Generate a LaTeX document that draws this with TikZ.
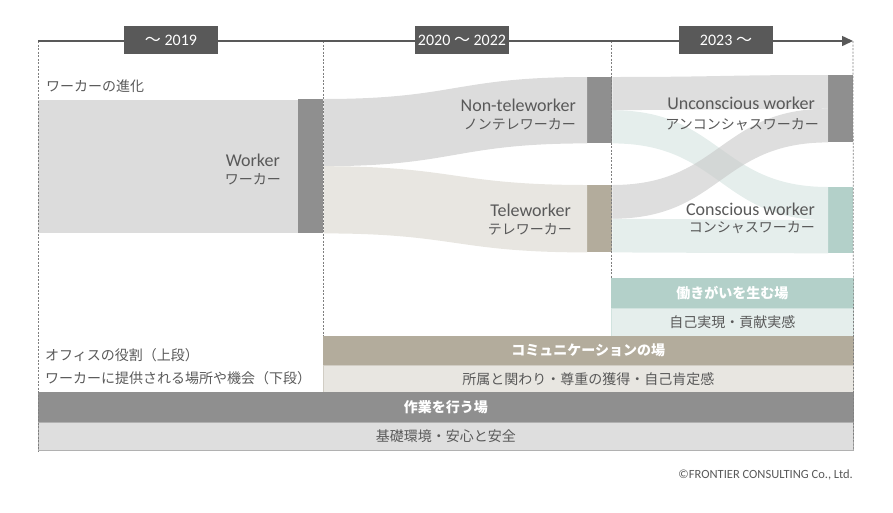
\documentclass[tikz,border=0pt]{standalone}
\usepackage{fontspec}
\setmainfont{Carlito}
\newfontfamily\jp{Noto Sans CJK JP}
\usetikzlibrary{arrows.meta,calc}
\definecolor{inkgray}{HTML}{595959}
\definecolor{bargray}{HTML}{8F8F8F}
\definecolor{flowgray}{HTML}{DCDCDC}
\definecolor{crossgray}{HTML}{C8C8C8}
\definecolor{bartan}{HTML}{B3AC9C}
\definecolor{flowtan}{HTML}{E8E6E1}
\definecolor{barteal}{HTML}{B3D0C9}
\definecolor{flowteal}{HTML}{E5EEEC}
\definecolor{basegray}{HTML}{DEDEDE}
\definecolor{dashgray}{HTML}{7F7F7F}
\begin{document}
\begin{tikzpicture}[x=1pt,y=-1pt,
    yearbox/.style ={fill=inkgray, text=white, minimum width=94pt, minimum height=28pt, inner sep=0pt, font=\fontsize{16}{18}\selectfont},
    stagebar/.style ={anchor=north west, minimum width=25pt, inner sep=0pt},
    enlabel/.style ={anchor=base east, inner sep=0pt, text=inkgray, font=\fontsize{18}{20}\selectfont},
    jplabel/.style ={anchor=base east, inner sep=0pt, text=inkgray, font=\jp\fontsize{14}{16}\selectfont},
    note/.style ={anchor=base west, inner sep=0pt, text=inkgray, font=\jp\fontsize{14}{16}\selectfont},
    tier/.style ={anchor=north west, inner sep=0pt, line width=0.6pt, font=\jp\fontsize{14}{16}\selectfont},
    period/.style ={draw=dashgray, line width=0.7pt, dash pattern=on 2pt off 1.5pt}]
   \useasboundingbox (0,0) rectangle (893,512);

   \coordinate (t0) at (38,41);
   \coordinate (t1) at (853,41);

   \node[stagebar, fill=bargray, minimum height=134pt] (wk) at (298,99)  {};
   \node[stagebar, fill=bargray, minimum height=66pt]  (nt) at (587,77)  {};
   \node[stagebar, fill=bartan, minimum height=67pt]   (tw) at (587,185) {};
   \node[stagebar, fill=bargray, minimum height=67pt]  (uc) at (828,75)  {};
   \node[stagebar, fill=barteal, minimum height=66pt]  (cs) at (828,187) {};

   \coordinate (wkm) at ($(wk.north east)!0.5!(wk.south east)$);
   \coordinate (ntm) at ($(nt.north east)!0.5!(nt.south east)$);
   \coordinate (twm) at ($(tw.north east)!0.5!(tw.south east)$);
   \coordinate (ucm) at ($(uc.north west)!0.5!(uc.south west)$);
   \coordinate (csm) at ($(cs.north west)!0.5!(cs.south west)$);

   \fill[flowgray] (38,100) rectangle (wk.south west);
   \fill[flowgray] (wk.north east) .. controls +(132,0) and +(-132,0) .. (nt.north west) -- (nt.south west) .. controls +(-132,0) and +(132,0) .. (wkm) -- cycle;
   \fill[flowtan] (wkm) .. controls +(132,0) and +(-132,0) .. (tw.north west) -- (tw.south west) .. controls +(-132,0) and +(132,0) .. (wk.south east) -- cycle;
   \fill[flowteal] (ntm) .. controls +(108,0) and +(-108,0) .. (cs.north west) -- (csm) .. controls +(-108,0) and +(108,0) .. (nt.south east) -- cycle;
   \fill[flowteal] (twm) .. controls +(108,0) and +(-108,0) .. (csm) -- (cs.south west) .. controls +(-108,0) and +(108,0) .. (tw.south east) -- cycle;
   \fill[crossgray, opacity=0.6] (nt.north east) .. controls +(108,0) and +(-108,0) .. (uc.north west) -- (ucm) .. controls +(-108,0) and +(108,0) .. (ntm) -- cycle;
   \fill[crossgray, opacity=0.6] (tw.north east) .. controls +(108,0) and +(-108,0) .. (ucm) -- (uc.south west) .. controls +(-108,0) and +(108,0) .. (twm) -- cycle;

   \node[tier, fill=barteal, draw=barteal, text=white, minimum width=242pt, minimum height=30pt] (ikigai) at (611,278) {\bfseries 働きがいを生む場};
   \node[tier, fill=flowteal, draw=barteal!60, text=inkgray, minimum width=242pt, minimum height=28pt] (jiko) at (611,308) {自己実現・貢献実感};
   \node[tier, fill=bartan, draw=bartan, text=white, minimum width=530pt, minimum height=29pt] (comm) at (323,336) {\bfseries コミュニケーションの場};
   \node[tier, fill=flowtan, draw=bartan!60, text=inkgray, minimum width=530pt, minimum height=27pt] (shozoku) at (323,365) {所属と関わり・尊重の獲得・自己肯定感};
   \node[tier, fill=bargray, draw=bargray, text=white, minimum width=815pt, minimum height=30pt] (sagyo) at (38,392) {\bfseries 作業を行う場};
   \node[tier, fill=basegray, draw=bargray!70, text=inkgray, minimum width=815pt, minimum height=28pt] (kiso) at (38,422) {基礎環境・安心と安全};

   \draw[period] (t0) -- (kiso.south west);
   \draw[period] (323,41) -- (comm.north west);
   \draw[period] (611,41) -- (ikigai.north west);
   \draw[period] (t1) -- (kiso.south east);

   \draw[inkgray, line width=1.5pt, -{Triangle[length=11pt,width=10pt]}] (t0) -- (t1);

   \node[yearbox] (y2019) at (171,40) {{\jp 〜} 2019};
   \node[yearbox] (y2020) at (462,40) {2020 {\jp 〜} 2022};
   \node[yearbox] (y2023) at (726,40) {2023 {\jp 〜}};

   \node[note] (evo) at (46,91) {ワーカーの進化};
   \node[note] (role) at (45,360) {オフィスの役割（上段）};
   \node[note] (offer) at (45,383) {ワーカーに提供される場所や機会（下段）};

   \node[enlabel] (wken) at (280,166) {Worker};
   \node[jplabel] (wkjp) at (281,184) {ワーカー};
   \node[enlabel] (nten) at (576,111) {Non-teleworker};
   \node[jplabel] (ntjp) at (576,129) {ノンテレワーカー};
   \node[enlabel] (twen) at (571,216) {Teleworker};
   \node[jplabel] (twjp) at (572,234) {テレワーカー};
   \node[enlabel] (ucen) at (815,109) {Unconscious worker};
   \node[jplabel] (ucjp) at (819,129) {アンコンシャスワーカー};
   \node[enlabel] (csen) at (815,215) {Conscious worker};
   \node[jplabel] (csjp) at (815,232) {コンシャスワーカー};

   \node[anchor=base east, inner sep=0pt, text=inkgray, font=\fontsize{12.5}{14}\selectfont] (copy) at (853,478) {©FRONTIER CONSULTING Co., Ltd.};
 \end{tikzpicture}
\end{document}
